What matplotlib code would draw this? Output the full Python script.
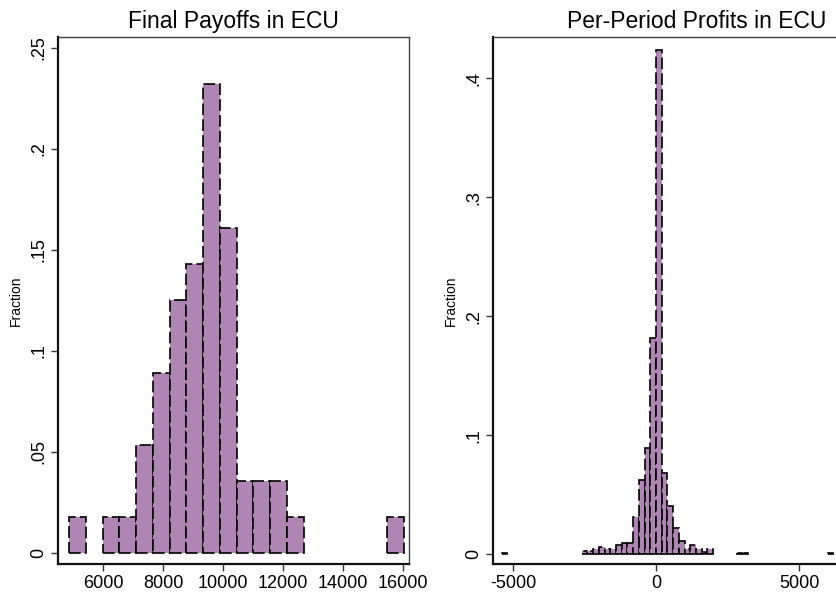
"""
Two histograms: final payoffs and per-period profits (fractions), Stata style.
"""

import numpy as np
import matplotlib
matplotlib.use("Agg")
import matplotlib.pyplot as plt

plt.rcParams["font.family"] = ["Liberation Sans", "DejaVu Sans"]

# --- data: Final Payoffs in ECU (20 bins) ---
PAYOFF_BIN_START = 4873
PAYOFF_BIN_WIDTH = 557.5
PAYOFF_FRACTION = [1/56, 0, 1/56, 1/56, 3/56, 5/56, 7/56, 8/56, 13/56, 9/56,
                   2/56, 2/56, 2/56, 1/56, 0, 0, 0, 0, 0, 1/56]
PAYOFF_XTICKS = [6000, 8000, 10000, 12000, 14000, 16000]
PAYOFF_YTICKS = [0, 0.05, 0.1, 0.15, 0.2, 0.25]
PAYOFF_YLABELS = ["0", ".05", ".1", ".15", ".2", ".25"]

# --- data: Per-Period Profits in ECU (non-empty bins only) ---
PROFIT_BIN_WIDTH = 200
PROFIT_BIN_LEFT = [-5400,
                   -2600, -2400, -2200, -2000, -1800, -1600, -1400, -1200,
                   -1000, -800, -600, -400, -200, 0, 200, 400, 600, 800,
                   1000, 1200, 1400, 1600, 1800,
                   2800, 3000, 6000]
PROFIT_FRACTION = [0.0012,
                   0.0022, 0.0022, 0.0045, 0.0058, 0.0042, 0.0042, 0.0075, 0.009,
                   0.009, 0.031, 0.0625, 0.089, 0.182, 0.424, 0.068, 0.040, 0.022, 0.011,
                   0.0039, 0.0073, 0.0039, 0.002, 0.0039,
                   0.0012, 0.0012, 0.0012]
PROFIT_XTICKS = [-5000, 0, 5000]
PROFIT_YTICKS = [0, 0.1, 0.2, 0.3, 0.4]
PROFIT_YLABELS = ["0", ".1", ".2", ".3", ".4"]

FILL = "#AF86B3"
DASH = (0, (7, 2.5))


def style_axes(ax, xticks, yticks, ylabels, title, title_x=0.5):
    ax.set_xticks(xticks)
    ax.set_xticklabels([str(t) for t in xticks], fontsize=13)
    ax.set_yticks(yticks)
    ax.set_yticklabels(ylabels, fontsize=13, rotation=90, va="center")
    ax.tick_params(direction="out", length=5, width=1, color="#333333", pad=3)
    ax.set_ylabel("Fraction", fontsize=10, labelpad=5)
    ax.set_title(title, fontsize=16.5, x=title_x, pad=6)
    for side in ("top", "right"):
        ax.spines[side].set_linewidth(1.0)
        ax.spines[side].set_color("#404040")
    for side in ("left", "bottom"):
        ax.spines[side].set_linewidth(1.6)
        ax.spines[side].set_color("#111111")


fig = plt.figure(figsize=(8.37, 5.92), dpi=100)

# left panel
ax1 = fig.add_axes([0.0693, 0.0473, 0.4194, 0.8907])
lefts = PAYOFF_BIN_START + PAYOFF_BIN_WIDTH * np.arange(len(PAYOFF_FRACTION))
frac = np.array(PAYOFF_FRACTION)
keep = frac > 0
ax1.bar(lefts[keep], frac[keep], width=PAYOFF_BIN_WIDTH, align="edge",
        color=FILL, edgecolor="black", linewidth=1.2, linestyle=DASH)
ax1.set_xlim(4500, 16190)
ax1.set_ylim(-0.0054, 0.2554)
style_axes(ax1, PAYOFF_XTICKS, PAYOFF_YTICKS, PAYOFF_YLABELS,
           "Final Payoffs in ECU")

# right panel (runs past the right edge of the figure, as in the source)
ax2 = fig.add_axes([0.589, 0.0473, 0.4237, 0.8907])
ax2.bar(PROFIT_BIN_LEFT, PROFIT_FRACTION, width=PROFIT_BIN_WIDTH, align="edge",
        color=FILL, edgecolor="black", linewidth=1.2, linestyle=DASH)
ax2.set_xlim(-5700, 6700)
ax2.set_ylim(-0.0084, 0.435)
style_axes(ax2, PROFIT_XTICKS, PROFIT_YTICKS, PROFIT_YLABELS,
           "Per-Period Profits in ECU", title_x=0.575)

fig.savefig("out.png", dpi=100)
